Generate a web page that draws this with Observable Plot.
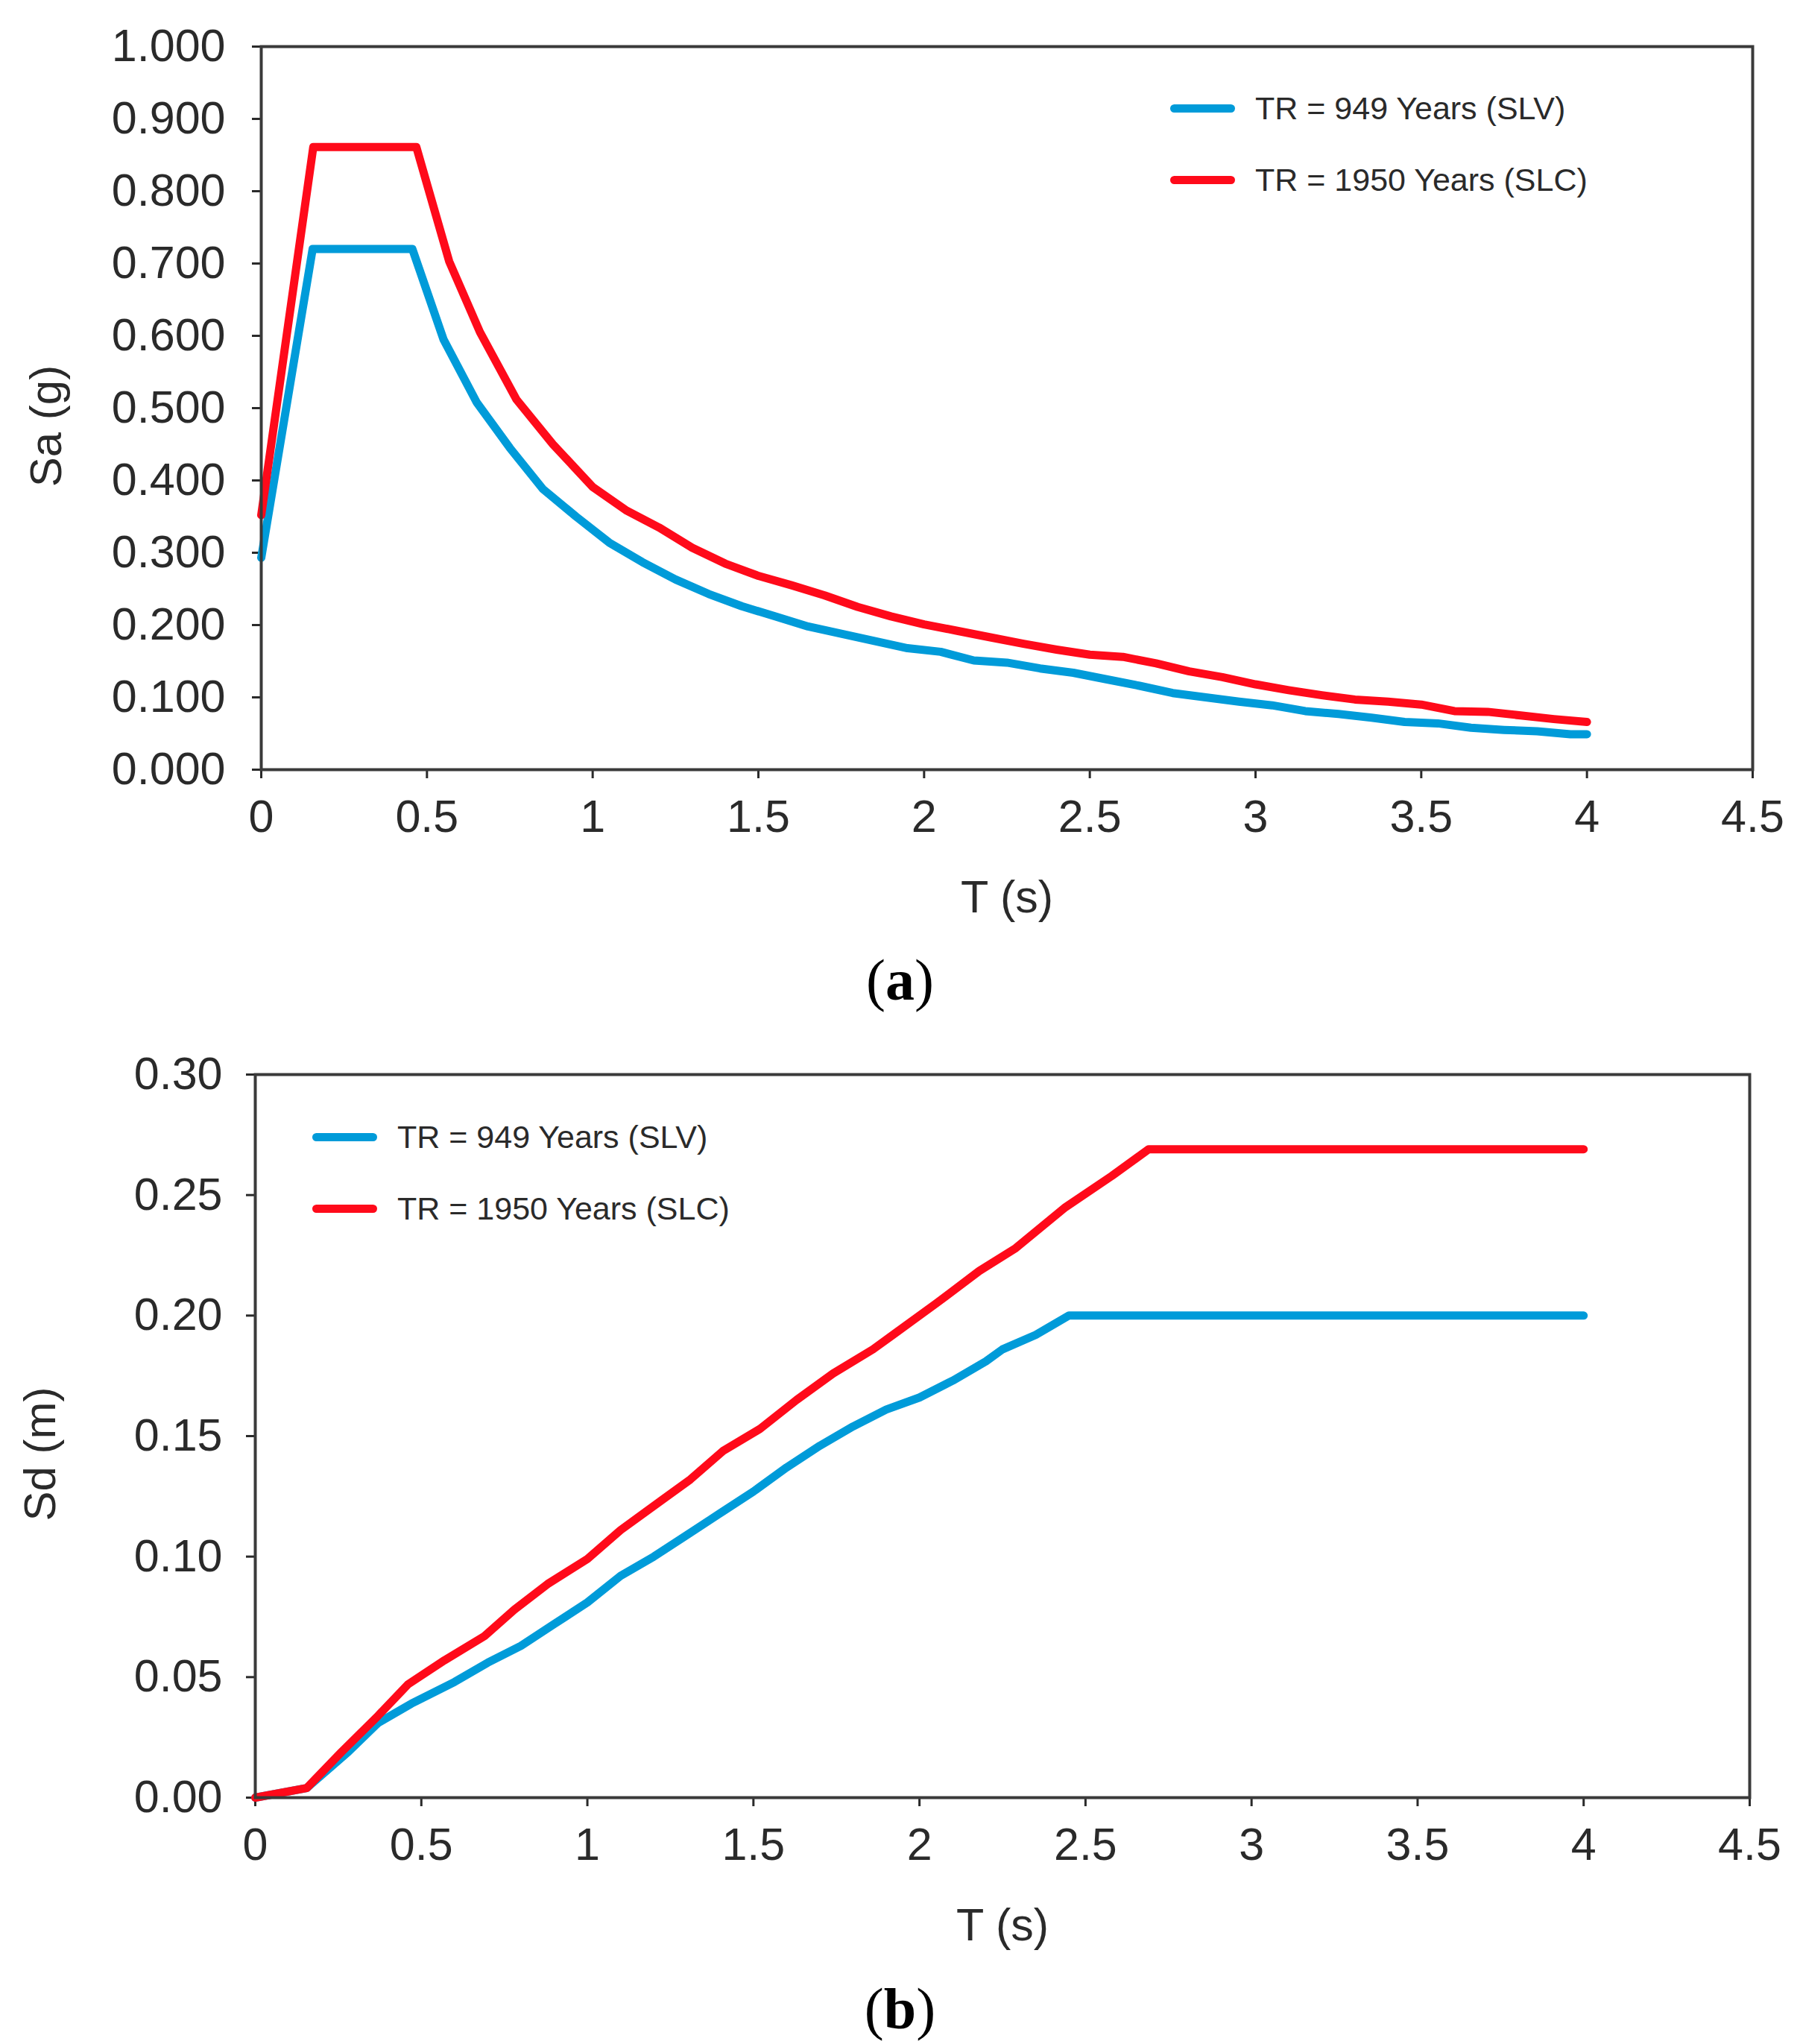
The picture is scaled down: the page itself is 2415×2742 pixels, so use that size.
<!DOCTYPE html>
<html>
<head>
<meta charset="utf-8">
<script src="https://cdn.jsdelivr.net/npm/d3@7"></script>
<script src="https://cdn.jsdelivr.net/npm/@observablehq/plot@0.6"></script>
<style>
  html, body { margin: 0; padding: 0; background: #fff; }
  #page { position: relative; width: 2415px; height: 2742px; overflow: hidden; background: #fff; }
  #page svg { position: absolute; left: 0; overflow: visible; }
  .caption { position: absolute; left: 0; width: 2415px; text-align: center; font-family: "Liberation Serif", "DejaVu Serif", serif; font-size: 78px; line-height: 78px; color: #000; }
  .caption b { font-weight: 700; }
  .legend { position: absolute; font-family: "Liberation Sans", Arial, sans-serif; font-size: 43px; color: #2a2a2a; }
  .legend .row { display: flex; align-items: center; height: 60px; margin-bottom: 36px; }
  .legend .sw { width: 87px; height: 11px; border-radius: 6px; margin-right: 27px; }
</style>
</head>
<body>
<div id="page"></div>
<script>
// ---- data ----
const seriesNames = ["TR = 949 Years (SLV)", "TR = 1950 Years (SLC)"];
const seriesColors = ["#009bd9", "#ff0a1a"];

const xTicks = [0, 0.5, 1, 1.5, 2, 2.5, 3, 3.5, 4, 4.5];
const saTicks = [0, 0.1, 0.2, 0.3, 0.4, 0.5, 0.6, 0.7, 0.8, 0.9, 1.0];
const sdTicks = [0, 0.05, 0.10, 0.15, 0.20, 0.25, 0.30];

// (a) spectral acceleration, SLV
const saT_SLV = [0, 0.155, 0.456, 0.55, 0.65, 0.75, 0.85, 0.95, 1.05, 1.15, 1.25, 1.35, 1.45, 1.55, 1.65, 1.75, 1.85, 1.95,
  2.05, 2.15, 2.25, 2.35, 2.45, 2.55, 2.65, 2.75, 2.85, 2.95, 3.05, 3.15, 3.25, 3.35, 3.45, 3.55, 3.65, 3.75, 3.85, 3.95, 4.0];
const sa_SLV = [0.293, 0.720, 0.720, 0.595, 0.508, 0.445, 0.388, 0.350, 0.314, 0.287, 0.263, 0.243, 0.226, 0.212, 0.198, 0.188, 0.178, 0.168,
  0.163, 0.151, 0.148, 0.140, 0.134, 0.125, 0.116, 0.106, 0.100, 0.094, 0.089, 0.081, 0.077, 0.072, 0.066, 0.064, 0.058, 0.055, 0.053, 0.049, 0.049];

// (a) spectral acceleration, SLC
const saT_SLC = [0, 0.157, 0.468, 0.567, 0.66, 0.77, 0.88, 1.0, 1.1, 1.2, 1.3, 1.4, 1.5, 1.6, 1.7, 1.8, 1.9, 2.0,
  2.1, 2.2, 2.3, 2.4, 2.5, 2.6, 2.7, 2.8, 2.9, 3.0, 3.1, 3.2, 3.3, 3.4, 3.5, 3.6, 3.7, 3.8, 3.9, 4.0];
const sa_SLC = [0.352, 0.861, 0.861, 0.703, 0.605, 0.512, 0.450, 0.391, 0.359, 0.335, 0.307, 0.285, 0.268, 0.255, 0.241, 0.225, 0.212, 0.201,
  0.192, 0.183, 0.174, 0.166, 0.159, 0.156, 0.147, 0.136, 0.128, 0.118, 0.110, 0.103, 0.097, 0.094, 0.090, 0.081, 0.080, 0.075, 0.070, 0.066];

// (b) spectral displacement, SLV
const sdT_SLV = [0, 0.155, 0.28, 0.37, 0.47, 0.6, 0.7, 0.8, 0.9, 1.0, 1.1, 1.2, 1.3, 1.4, 1.5, 1.6, 1.7, 1.8, 1.9,
  2.0, 2.1, 2.2, 2.25, 2.35, 2.45, 4.0];
const sd_SLV = [0, 0.004, 0.019, 0.031, 0.039, 0.048, 0.056, 0.063, 0.072, 0.081, 0.092, 0.100, 0.109, 0.118, 0.127, 0.137, 0.146, 0.154, 0.161,
  0.166, 0.173, 0.181, 0.186, 0.192, 0.200, 0.200];

// (b) spectral displacement, SLC
const sdT_SLC = [0, 0.155, 0.26, 0.37, 0.46, 0.57, 0.69, 0.78, 0.88, 1.0, 1.1, 1.22, 1.31, 1.41, 1.52, 1.63, 1.74, 1.86, 1.92,
  2.05, 2.18, 2.29, 2.44, 2.58, 2.69, 4.0];
const sd_SLC = [0, 0.004, 0.019, 0.034, 0.047, 0.057, 0.067, 0.078, 0.0886, 0.099, 0.111, 0.123, 0.132, 0.144, 0.153, 0.165, 0.176, 0.186, 0.192,
  0.205, 0.2185, 0.228, 0.245, 0.258, 0.269, 0.269];

// ---- helpers ----
const toRows = (ts, vs) => ts.map((t, i) => ({T: t, v: vs[i]}));
const ink = "#2a2a2a";
const page = document.getElementById("page");

function spectrumPlot({top, marginTop, marginLeft, marginRight, yDomain, yTicks, yFormat, yLabel, tickPadY, series}) {
  const height = 1260;
  const plot = Plot.plot({
    width: 2415,
    height,
    marginTop,
    marginLeft,
    marginRight,
    marginBottom: height - marginTop - 970,
    style: {fontFamily: "'Liberation Sans', Arial, sans-serif", fontSize: "61px", color: ink, background: "transparent"},
    x: {domain: [0, 4.5]},
    y: {domain: yDomain},
    marks: [
      Plot.axisX({ticks: xTicks, tickSize: 12, tickPadding: 28, tickFormat: d => String(d), label: null, stroke: ink, strokeWidth: 3}),
      Plot.axisY({ticks: yTicks, tickSize: 12, tickPadding: tickPadY, tickFormat: d3.format(yFormat), label: null, stroke: ink, strokeWidth: 3}),
      ...series.map((rows, i) => Plot.line(rows, {
        x: "T", y: "v", stroke: seriesColors[i], strokeWidth: 11, strokeLinecap: "round", strokeLinejoin: "round"
      })),
      Plot.frame({stroke: "#3a3a3a", strokeWidth: 4}),
      Plot.text(["T (s)"], {text: d => d, frameAnchor: "bottom", dy: 172, lineAnchor: "middle", textAnchor: "middle", fontSize: 61, fill: ink}),
      Plot.text([yLabel], {text: d => d, frameAnchor: "left", dx: -288, dy: 24, rotate: -90, lineAnchor: "middle", textAnchor: "middle", fontSize: 60, fill: ink})
    ]
  });
  plot.style.top = top + "px";
  page.appendChild(plot);
}

function legend(left, top) {
  const div = document.createElement("div");
  div.className = "legend";
  div.style.left = left + "px";
  div.style.top = top + "px";
  seriesNames.forEach((name, i) => {
    const row = document.createElement("div");
    row.className = "row";
    const sw = document.createElement("span");
    sw.className = "sw";
    sw.style.background = seriesColors[i];
    const label = document.createElement("span");
    label.textContent = name;
    row.appendChild(sw);
    row.appendChild(label);
    div.appendChild(row);
  });
  page.appendChild(div);
}

function caption(letter, top) {
  const div = document.createElement("div");
  div.className = "caption";
  div.style.top = top + "px";
  div.innerHTML = `(<b>${letter}</b>)`;
  page.appendChild(div);
}

// (a)
spectrumPlot({
  top: 0, marginTop: 62, marginLeft: 350, marginRight: 64,
  yDomain: [0, 1], yTicks: saTicks, yFormat: ".3f", yLabel: "Sa (g)", tickPadY: 36,
  series: [toRows(saT_SLV, sa_SLV), toRows(saT_SLC, sa_SLC)]
});
legend(1570, 115);
caption("a", 1276);

// (b)
spectrumPlot({
  top: 1380, marginTop: 61, marginLeft: 342, marginRight: 68,
  yDomain: [0, 0.30], yTicks: sdTicks, yFormat: ".2f", yLabel: "Sd (m)", tickPadY: 32,
  series: [toRows(sdT_SLV, sd_SLV), toRows(sdT_SLC, sd_SLC)]
});
legend(419, 1495);
caption("b", 2656);
</script>
</body>
</html>
